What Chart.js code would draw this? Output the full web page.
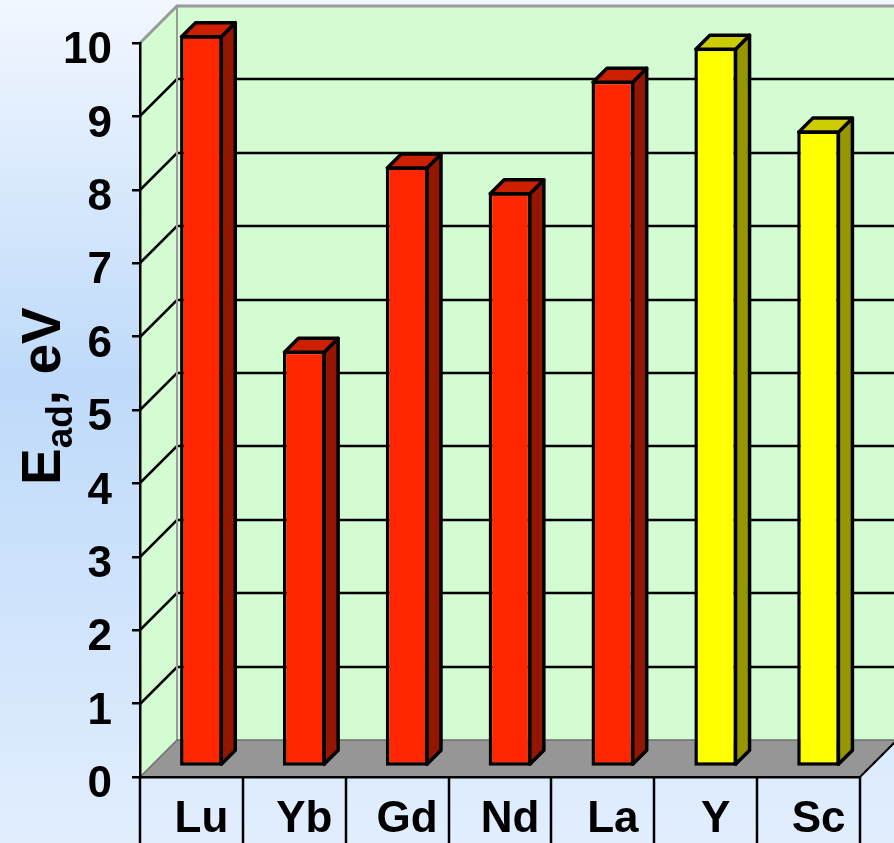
<!DOCTYPE html>
<html>
<head>
<meta charset="utf-8">
<script src="https://cdn.jsdelivr.net/npm/chart.js@4.4.1/dist/chart.umd.min.js"></script>
<style>
  html, body { margin: 0; padding: 0; overflow: hidden; background: #e8f1fe; }
  #wrap { width: 894px; height: 843px; }
</style>
</head>
<body>
<div id="wrap"><canvas id="chart" width="894" height="843"></canvas></div>
<script>
// Adsorption energy per element
const elements = ['Lu', 'Yb', 'Gd', 'Nd', 'La', 'Y', 'Sc'];
const adsorptionEnergy = [9.97, 5.67, 8.18, 7.83, 9.35, 9.80, 8.67];
const isLanthanide = [true, true, true, true, true, false, false];
const yTickValues = [0, 1, 2, 3, 4, 5, 6, 7, 8, 9, 10];

// Styling
const FONT = '"Liberation Sans", Arial, Helvetica, sans-serif';
const W = 894, H = 843;
const WALL_DEPTH = 37;     // depth of the 3-D box (px)
const BAR_SHIFT = 10;      // bars sit this far back from the front plane
const BAR_DEPTH = 14;      // depth of each bar prism
const WALL_FILL = '#d3fcd3';
const FLOOR_FILL = '#969696';
const EDGE_GRAY = '#9a9a9a';
const palette = {
  lanthanide: { front: '#ff2600', top: '#cc2000', side: '#951600' },
  other:      { front: '#ffff00', top: '#cccc00', side: '#969600' }
};
const faceColors = isLanthanide.map(l => l ? palette.lanthanide : palette.other);

function line(ctx, pts, color, width) {
  ctx.beginPath();
  ctx.moveTo(pts[0][0], pts[0][1]);
  for (let i = 1; i < pts.length; i++) ctx.lineTo(pts[i][0], pts[i][1]);
  ctx.strokeStyle = color;
  ctx.lineWidth = width;
  ctx.stroke();
}
function poly(ctx, pts, fill) {
  ctx.beginPath();
  ctx.moveTo(pts[0][0], pts[0][1]);
  for (let i = 1; i < pts.length; i++) ctx.lineTo(pts[i][0], pts[i][1]);
  ctx.closePath();
  ctx.fillStyle = fill;
  ctx.fill();
}

// Background, walls, floor, 3-D bar faces, category dividers, axis title
const box3d = {
  id: 'box3d',
  beforeDraw(chart) {
    const { ctx, chartArea: a, scales: { y } } = chart;
    const D = WALL_DEPTH;
    const L = a.left, R = a.right, T = a.top, B = a.bottom;
    ctx.save();
    const g = ctx.createLinearGradient(0, 0, 0, H);
    g.addColorStop(0, '#f2f7ff');
    g.addColorStop(0.45, '#bedaf9');
    g.addColorStop(1, '#e2eefe');
    ctx.fillStyle = g;
    ctx.fillRect(0, 0, W, H);

    // back wall and left wall
    poly(ctx, [[L + D, T - D], [W + 5, T - D], [W + 5, B - D], [L + D, B - D]], WALL_FILL);
    poly(ctx, [[L, T], [L + D, T - D], [L + D, B - D], [L, B]], WALL_FILL);

    // value gridlines running along both walls
    ctx.lineCap = 'butt';
    yTickValues.forEach(v => {
      if (v === y.min || v === y.max) return;
      const py = Math.round(y.getPixelForValue(v));
      line(ctx, [[L, py], [L + D, py - D], [W + 5, py - D]], '#000', 2.5);
    });

    // wall edges
    line(ctx, [[L + D, T - D], [L + D, B - D]], EDGE_GRAY, 2);
    line(ctx, [[L, T], [L + D, T - D], [W + 5, T - D]], EDGE_GRAY, 3);

    // floor
    poly(ctx, [[L, B], [R, B], [R + D, B - D], [L + D, B - D]], FLOOR_FILL);
    line(ctx, [[L, B], [L + D, B - D], [W + 5, B - D]], '#6e6e6e', 1.5);
    line(ctx, [[R, B], [R + D, B - D]], '#000', 2);
    ctx.restore();
  },
  beforeDatasetsDraw(chart) {
    chart.ctx.save();
    chart.ctx.translate(BAR_SHIFT, -BAR_SHIFT);
  },
  afterDatasetsDraw(chart) {
    const ctx = chart.ctx;
    const d = BAR_DEPTH;
    chart.getDatasetMeta(0).data.forEach((bar, i) => {
      const { x, y, base, width } = bar.getProps(['x', 'y', 'base', 'width'], true);
      const l = x - width / 2 + 1.5, r = x + width / 2 - 1.5;
      const c = faceColors[i];
      ctx.lineJoin = 'round';
      ctx.lineWidth = 3.5;
      ctx.strokeStyle = '#000';
      const side = [[r, y + 1.5], [r + d, y + 1.5 - d], [r + d, base - 1.5 - d], [r, base - 1.5]];
      poly(ctx, side, c.side);
      ctx.stroke();
      const top = [[l, y + 1.5], [l + d, y + 1.5 - d], [r + d, y + 1.5 - d], [r, y + 1.5]];
      poly(ctx, top, c.top);
      ctx.stroke();
    });
    ctx.restore();
  },
  afterDraw(chart) {
    const { ctx, chartArea: a, scales: { x } } = chart;
    ctx.save();
    // category dividers under the floor
    const n = elements.length;
    const bounds = [a.left];
    for (let i = 0; i < n - 1; i++) {
      bounds.push((x.getPixelForValue(i) + x.getPixelForValue(i + 1)) / 2);
    }
    bounds.push(a.right);
    bounds.forEach(bx => line(ctx, [[Math.round(bx), a.bottom], [Math.round(bx), H]], '#000', 2.5));

    // axis title  E_ad, eV  (rotated)
    ctx.translate(60, 485);
    ctx.rotate(-Math.PI / 2);
    ctx.fillStyle = '#000';
    ctx.textAlign = 'left';
    ctx.textBaseline = 'alphabetic';
    ctx.font = 'bold 55px ' + FONT;
    ctx.fillText('E', 0, 0);
    let pos = ctx.measureText('E').width;
    ctx.font = 'bold 37px ' + FONT;
    ctx.fillText('ad', pos, 12);
    pos += ctx.measureText('ad').width;
    ctx.font = 'bold 55px ' + FONT;
    ctx.fillText(', eV', pos, 0);
    ctx.restore();
  }
};

new Chart(document.getElementById('chart'), {
  type: 'bar',
  data: {
    labels: elements,
    datasets: [{
      data: adsorptionEnergy,
      backgroundColor: faceColors.map(c => c.front),
      borderColor: '#000',
      borderWidth: 3.5,
      borderSkipped: false,
      barPercentage: 0.415,
      categoryPercentage: 1
    }]
  },
  options: {
    responsive: false,
    animation: false,
    devicePixelRatio: 1,
    layout: { padding: { top: 43, right: 34, left: 0, bottom: 0 } },
    plugins: { legend: { display: false }, tooltip: { enabled: false } },
    scales: {
      x: {
        grid: { display: false, drawTicks: false },
        border: { display: true, color: '#000', width: 2.5 },
        ticks: {
          color: '#000', padding: 16, labelOffset: BAR_SHIFT,
          maxRotation: 0, autoSkip: false,
          font: { family: FONT, size: 44, weight: 'bold' }
        },
        afterFit(s) { s.height = 66; s.paddingLeft = 0; s.paddingRight = 0; }
      },
      y: {
        min: 0, max: 10,
        afterBuildTicks(s) { s.ticks = yTickValues.map(v => ({ value: v })); },
        grid: { drawOnChartArea: false, drawTicks: true, tickLength: 8, color: '#000', lineWidth: 2.5 },
        border: { display: true, color: '#000', width: 2.5 },
        ticks: {
          color: '#000', padding: 20, labelOffset: 8,
          font: { family: FONT, size: 44, weight: 'bold' }
        },
        afterFit(s) { s.width = 140; s.paddingTop = 0; s.paddingBottom = 0; }
      }
    }
  },
  plugins: [box3d]
});
</script>
</body>
</html>
